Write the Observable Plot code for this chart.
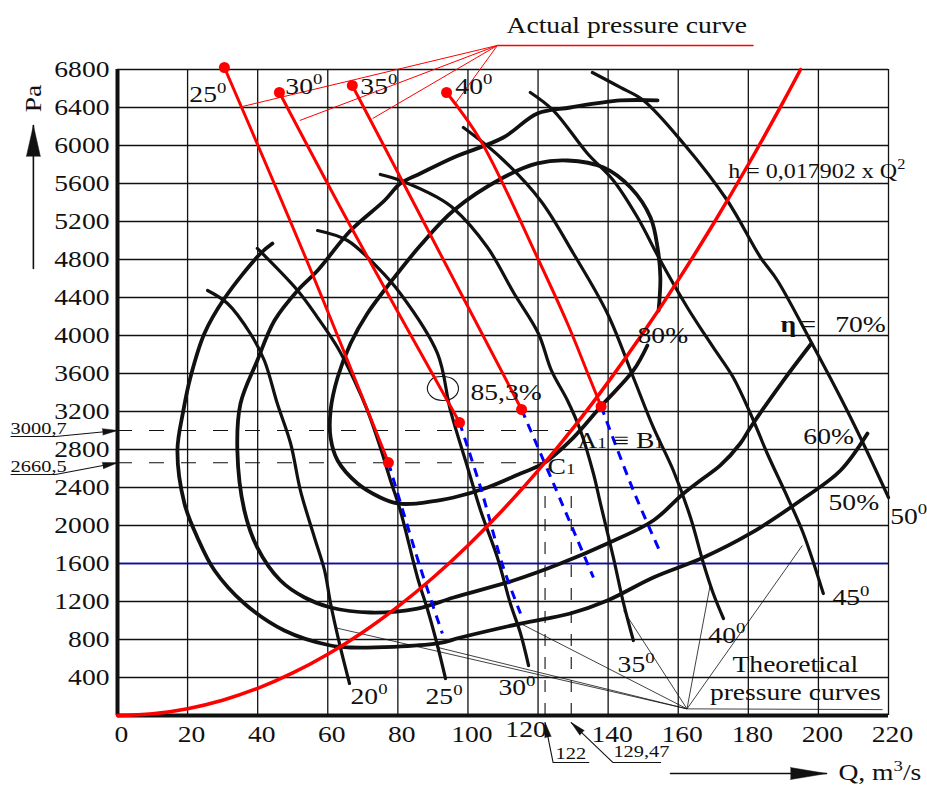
<!DOCTYPE html>
<html><head><meta charset="utf-8">
<script src="https://cdn.jsdelivr.net/npm/d3@7"></script>
<script src="https://cdn.jsdelivr.net/npm/@observablehq/plot@0.6"></script>
<style>html,body{margin:0;padding:0;background:#fff}</style>
</head><body><div id="chart"></div>
<script>
// ---------- data (Q in m3/s, h in Pa) ----------
const xTicks = [0,20,40,60,80,100,120,140,160,180,200,220];
const yTicks = [400,800,1200,1600,2000,2400,2800,3200,3600,4000,4400,4800,5200,5600,6000,6400,6800];
const blueLevel = 1600;
const dashLevels = [[129.47,3000.7],[122,2660.5]];
const dashTop = 2400;

// theoretical pressure curves
const theo20 = [[25.7,4474],[31.4,4337],[37.9,4021],[41.9,3737],[45.6,3284],[49.4,2863],[52.2,2368],[56.2,1874],[59.1,1526],[60.8,1179],[63.6,716],[66.2,337]];
const theo25 = [[39.9,4916],[51.4,4474],[57.1,4189],[62.8,3874],[67.6,3526],[71.3,3211],[75.0,2821],[77.9,2474],[80.7,2158],[85.6,1453],[88.8,1074],[91.3,737],[93.6,389]];
const theo30 = [[57.1,5105],[65.6,5000],[74.2,4716],[80.7,4442],[91.3,3811],[95.0,3211],[99.9,2611],[103.6,2158],[108.4,1663],[112.1,1179],[115.0,863],[117.3,526]];
const theo35 = [[75.0,5695],[80.7,5632],[91.3,5453],[95.9,5337],[105.6,4926],[113.0,4453],[120.1,4021],[123.8,3632],[128.4,3316],[132.1,3000],[135.8,2547],[137.8,2232],[141.5,1663],[144.4,1179],[147.2,789]];
const theo40 = [[98.7,6189],[109.3,5874],[120.7,5421],[130.1,4863],[139.8,4232],[147.2,3558],[152.9,3032],[158.6,2579],[163.5,2084],[167.2,1600],[170.0,1284],[172.9,1021]];
const theo45 = [[117.8,6558],[124.4,6368],[134.1,5916],[141.5,5632],[148.4,5242],[154.9,4789],[162.6,4295],[170.0,3874],[175.7,3558],[180.6,3179],[185.4,2758],[191.2,2295],[195.7,1916],[201.4,1284]];
const theo50 = [[135.5,6768],[143.5,6611],[150.1,6474],[161.5,6021],[174.0,5421],[183.5,4821],[188.3,4579],[197.7,3947],[206.3,3347],[212.8,2863],[220.0,2295]];

// efficiency curves
const eff80 = [[154.4,4263],[154.9,4611],[154.1,4926],[152.1,5242],[146.4,5558],[138.7,5768],[128.4,5842],[119.8,5811],[110.1,5663],[95.9,5316],[86.4,4947],[79.0,4611],[71.3,4232],[66.5,3916],[62.8,3558],[60.8,3211],[60.8,2926],[62.8,2684],[68.5,2442],[75.0,2295],[79.9,2232],[85.6,2232],[91.3,2263],[95.9,2295],[105.6,2400],[115.0,2547],[121.5,2653],[130.1,2926],[137.9,3253],[147.2,3632],[151.2,3895]];
const eff70 = [[154.1,6474],[143.5,6474],[129.2,6400],[119.8,6337],[110.1,6084],[95.9,5874],[86.4,5705],[80.7,5600],[76.2,5421],[66.5,5105],[57.1,4684],[51.4,4474],[44.8,4158],[39.9,3737],[35.1,3284],[34.2,2789],[36.2,2158],[39.9,1768],[46.5,1421],[53.4,1242],[60.8,1137],[72.2,1084],[85.6,1126],[95.9,1242],[113.0,1421],[126.4,1600],[139.8,1811],[152.9,2053],[161.5,2337],[166.3,2474],[172.0,2632],[177.7,2863],[180.6,3032],[190.0,3526],[198.0,3916]];
const eff60 = [[44.2,4968],[40.8,4863],[30.5,4389],[24.8,4021],[20.8,3558],[18.8,3211],[17.1,2789],[19.1,2232],[22.8,1874],[27.7,1526],[36.2,1179],[47.6,895],[60.8,737],[66.5,716],[91.3,758],[97.9,821],[115.0,968],[129.2,1074],[139.8,1211],[152.9,1453],[167.2,1663],[180.6,1916],[194.9,2263],[206.3,2579],[214.0,2968]];
const eff853 = [[88.4,3442],[89.9,3547],[92.7,3568],[95.9,3537],[97.3,3442],[95.9,3347],[92.7,3316],[89.9,3347]];

// network curve h = 0,17902 Q^2
const network = [[0,0],[10,18],[20,72],[30,161],[40,286],[50,448],[60,645],[70,877],[80,1146],[90,1450],[100,1790],[110,2166],[120,2578],[130,3025],[140,3509],[150,4028],[160,4583],[170,5174],[180,5800],[190,6462],[194.9,6800]];

// actual pressure curves (red) and their extensions (blue dashed)
const red25 = [[30.5,6821],[54.6,4737],[77.3,2663]];
const red30 = [[46.2,6558],[66.5,5150],[97.6,3084]];
const red35 = [[67.0,6632],[86.4,5263],[115.3,3221]];
const red40 = [[93.9,6558],[103.6,6053],[119.8,4821],[128.4,4126],[135.0,3526],[138.0,3253]];
const blue25 = [[77.3,2663],[86.4,1558],[92.7,863]];
const blue30 = [[97.6,3084],[103.6,2400],[110.1,1558],[115.0,1074]];
const blue35 = [[115.3,3221],[124.4,2442],[135.8,1453]];
const blue40 = [[138.0,3253],[147.2,2368],[154.9,1716]];

// labels  [text, Q, h]
const topAngleLabels = [["25^0",20.5,6453],["30^0",47.9,6547],["35^0",69.3,6547],["40^0",96.4,6547]];
const bottomAngleLabels = [["20^0",66.5,126],["25^0",87.9,116],["30^0",108.7,211],["35^0",142.7,453],["40^0",168.6,768],["45^0",204,1158],["50^0",220.5,2021]];
const effLabels = [["=",194.9,4042],["70%",204.8,4042],["80%",148.4,3926],["60%",195.7,2853],["50%",202.9,2168],["85,3%",100.7,3326]];
const etaLabel = [["η",189.2,4042]];
const pointLabels = [["A_1 ≡ B_1",131.2,2821],["C_1",122.7,2547]];
const formulaLabel = [["h = 0,017902 x Q^2",174.3,5663]];
const valueLabels = [["3000,7",-30.5,2958],["2660,5",-30.5,2568],["122",125.0,-453],["129,47",141.5,-442]];
const actualTitle = [["Actual pressure curve",111,7189]];
const theoTitle = [["Theoretical",193.4,463],["pressure curves",193.4,168]];
const axisTitles = [["Q, m^3/s",205.7,-684]];
const paTitle = [["Pa",-24,6495]];

// leader lines
const actualOrigin = [108.4,7053];
const actualTargets = [[35.7,6411],[52.0,6263],[72.8,6284],[96.4,6442]];
const actualUnderlineEnd = [181.5,7053];
const theoOrigin = [162.5,70];
const theoTargets = [[61.9,926],[91.0,720],[115.0,968],[144.4,1105],[169.2,1389],[195.4,1789]];
const theoUnderlineEnd = [218.3,62];
const underlines = [[[-30.5,2937],[-17.7,2937]],[[-30.5,2537],[-17.7,2537]],[[124.3,-495],[134.6,-495]],[[141.4,-495],[155.1,-495]]];
const leaderArrows = [
  {from:[-17.7,2937], to:[0,3000.7]},
  {from:[-17.7,2537], to:[0,2660.5]},
  {from:[124.3,-495], to:[122,-74]},
  {from:[141.4,-495], to:[129.47,-74]}
];
const paArrow = {from:[-24,4705], to:[-24,6211]};
const qArrow = {from:[157.8,-611], to:[202.3,-611]};

// ---------- layout ----------
const W = 927, H = 787, ML = 117, MR = 39, MT = 69, MB = 72;
const xScale = {domain:[0,220], range:[ML, W-MR]};
const yScale = {domain:[0,6800], range:[H-MB, MT]};
const sx = Plot.scale({x: xScale}), sy = Plot.scale({y: yScale});
const rot = a => Math.atan2(sx.apply(a.to[0]) - sx.apply(a.from[0]), -(sy.apply(a.to[1]) - sy.apply(a.from[1]))) * 180 / Math.PI;

const XY = {x: d => d[0], y: d => d[1]};
const RED = "#ff0000", BLUE = "#0000ff", INK = "#111";
const curve = (data, o) => Plot.line(data, {...XY, curve: "catmull-rom", strokeLinecap: "round", strokeLinejoin: "round", ...o});
const label = (data, o) => Plot.text(data, {x: d => d[1], y: d => d[2], text: d => d[0], lineAnchor: "bottom", textAnchor: "start", fontSize: 23, fill: INK, ...o});
const fan = (origin, targets) => targets.map(t => ({x1: origin[0], y1: origin[1], x2: t[0], y2: t[1]}));
const seg = (a, o) => Plot.line([a.from, a.to], {...XY, stroke: INK, ...o});
const head = (a, len, r) => Plot.vector([a.to], {...XY, rotate: rot(a), length: len, r, shape: "spike", anchor: "end", fill: INK, stroke: INK, strokeWidth: 0.5});

const chart = Plot.plot({
  width: W, height: H,
  marginLeft: ML, marginRight: MR, marginTop: MT, marginBottom: MB,
  x: {...xScale, axis: null},
  y: {...yScale, axis: null},
  style: {fontFamily: "'Liberation Serif','Times New Roman',serif", background: "#fff", color: INK, overflow: "visible"},
  marks: [
    // grid
    Plot.ruleX(xTicks.slice(1), {x: d => d, y1: 0, y2: 6800, stroke: INK, strokeWidth: 1.3}),
    Plot.ruleY(yTicks, {y: d => d, x1: 0, x2: 220, stroke: INK, strokeWidth: 1.3}),
    Plot.ruleY([blueLevel], {y: d => d, x1: 0, x2: 220, stroke: BLUE, strokeWidth: 1.6}),
    Plot.ruleY(dashLevels, {y: d => d[1], x1: 0, x2: d => d[0], stroke: INK, strokeWidth: 1.1, strokeDasharray: "15,17"}),
    Plot.ruleX(dashLevels, {x: d => d[0], y1: 0, y2: dashTop, stroke: INK, strokeWidth: 1.1, strokeDasharray: "12,11"}),
    // efficiency curves
    curve(eff60, {stroke: INK, strokeWidth: 3.8}),
    curve(eff70, {stroke: INK, strokeWidth: 3.8}),
    curve(eff80, {stroke: INK, strokeWidth: 3.8}),
    Plot.line(eff853, {...XY, curve: "catmull-rom-closed", stroke: INK, strokeWidth: 1.1}),
    // theoretical pressure curves
    ...[theo20, theo25, theo30, theo35, theo40, theo45, theo50].map(c => curve(c, {stroke: INK, strokeWidth: 3.2})),
    // leader lines
    Plot.link(fan(actualOrigin, actualTargets), {x1: "x1", y1: "y1", x2: "x2", y2: "y2", stroke: RED, strokeWidth: 1}),
    Plot.link([{x1: actualOrigin[0], y1: actualOrigin[1], x2: actualUnderlineEnd[0], y2: actualUnderlineEnd[1]}], {x1: "x1", y1: "y1", x2: "x2", y2: "y2", stroke: RED, strokeWidth: 1.6}),
    Plot.link(fan(theoOrigin, theoTargets), {x1: "x1", y1: "y1", x2: "x2", y2: "y2", stroke: INK, strokeWidth: 0.8}),
    Plot.link([{x1: theoOrigin[0], y1: theoOrigin[1], x2: theoUnderlineEnd[0], y2: theoUnderlineEnd[1]}], {x1: "x1", y1: "y1", x2: "x2", y2: "y2", stroke: INK, strokeWidth: 0.8}),
    Plot.link(underlines, {x1: d => d[0][0], y1: d => d[0][1], x2: d => d[1][0], y2: d => d[1][1], stroke: INK, strokeWidth: 1.1}),
    ...leaderArrows.map(a => seg(a, {strokeWidth: 1.1})),
    ...leaderArrows.map(a => head(a, 15, 3.2)),
    seg(paArrow, {strokeWidth: 1.6}), head(paArrow, 31, 7),
    seg(qArrow, {strokeWidth: 1.6}), head(qArrow, 36, 6),
    // axes
    Plot.ruleX([0], {x: d => d, y1: 0, y2: 6800, stroke: INK, strokeWidth: 4}),
    Plot.ruleY([0], {y: d => d, x1: 0, x2: 220, stroke: INK, strokeWidth: 4}),
    // blue dashed extensions
    ...[blue25, blue30, blue35, blue40].map(c => curve(c, {stroke: BLUE, strokeWidth: 3, strokeDasharray: "9,7", strokeLinecap: "butt"})),
    // network curve and actual curves
    curve(network, {stroke: RED, strokeWidth: 3.5}),
    ...[red25, red30, red35, red40].map(c => curve(c, {stroke: RED, strokeWidth: 3})),
    Plot.dot([red25, red30, red35, red40].flatMap(c => [c[0], c[c.length - 1]]), {...XY, r: 5.5, fill: RED, stroke: "none"}),
    // tick labels
    Plot.text(xTicks.filter(d => d !== 120), {x: d => d, y: d => 0, text: d => String(d), dx: 4, dy: 26, lineAnchor: "bottom", fontSize: 23, fill: INK}),
    Plot.text(xTicks.filter(d => d === 120), {x: d => d, y: d => 0, text: d => String(d), dx: -12, dy: 21, lineAnchor: "bottom", fontSize: 23, fill: INK}),
    Plot.text(yTicks, {x: d => 0, y: d => d, text: d => String(d), textAnchor: "end", dx: -8, lineAnchor: "middle", fontSize: 23, fill: INK}),
    // labels
    label(topAngleLabels),
    label(bottomAngleLabels),
    label(effLabels),
    label(etaLabel, {fontWeight: "bold"}),
    label(pointLabels, {fontSize: 23}),
    label(formulaLabel, {fontSize: 20}),
    label(valueLabels, {fontSize: 17}),
    label(actualTitle),
    label(theoTitle, {textAnchor: "middle"}),
    label(axisTitles),
    Plot.text(paTitle, {x: d => d[1], y: d => d[2], text: d => d[0], rotate: -90, textAnchor: "middle", lineAnchor: "middle", fontSize: 23, fill: INK})
  ]
});

// ---------- typography: superscripts / small digits, horizontal stretch ----------
const NS = "http://www.w3.org/2000/svg";
const SUP = 0.68, RISE = 0.42, STRETCH = 1.2;
function rich(node) {
  const s = node.textContent;
  if (!/[\^_]/.test(s)) return;
  node.textContent = "";
  let buf = "", drop = false;
  const flush = () => {
    if (!buf) return;
    if (drop) { const t = document.createElementNS(NS, "tspan"); t.setAttribute("dy", RISE + "em"); t.textContent = buf; node.appendChild(t); drop = false; }
    else node.appendChild(document.createTextNode(buf));
    buf = "";
  };
  for (let i = 0; i < s.length; i++) {
    const c = s[i];
    if ((c === "^" || c === "_") && i + 1 < s.length) {
      flush();
      const t = document.createElementNS(NS, "tspan");
      t.setAttribute("font-size", SUP + "em");
      if (c === "^") { t.setAttribute("dy", (-RISE / SUP).toFixed(3) + "em"); drop = true; }
      t.textContent = s[i + 1];
      node.appendChild(t);
      i++;
    } else buf += c;
  }
  flush();
}
chart.querySelectorAll("text").forEach(t => {
  const spans = t.querySelectorAll("tspan");
  (spans.length ? [...spans] : [t]).forEach(rich);
  const x = parseFloat(t.getAttribute("x")) || 0;
  const tr = t.getAttribute("transform") || "";
  t.setAttribute("transform", `${tr} translate(${x},0) scale(${STRETCH},1) translate(${-x},0)`);
});
document.getElementById("chart").appendChild(chart);
</script></body></html>
